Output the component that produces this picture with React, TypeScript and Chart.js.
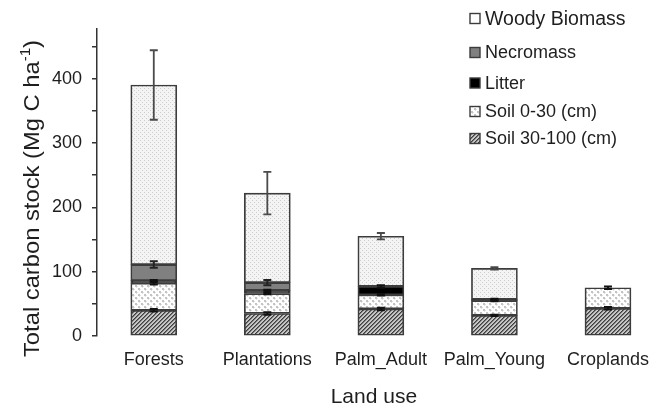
import { useEffect, useRef } from 'react';
import { Chart, registerables } from 'chart.js';

Chart.register(...registerables);

// ---------- data ----------
const categories = ['Forests', 'Plantations', 'Palm_Adult', 'Palm_Young', 'Croplands'];
const seriesNames = ['Soil 30-100 (cm)', 'Soil 0-30 (cm)', 'Litter', 'Necromass', 'Woody Biomass'];
const soil30to100 = [40, 35, 42, 32, 43];
const soil0to30 = [42, 31, 22, 23, 32];
const litter = [4, 5, 13, 2, 0];
const necromass = [25, 12, 0, 0, 0];
const woodyBiomass = [279, 139, 78, 48, 0];
const soil30to100Err = [2, 2, 2, 1, 2];
const soil0to30Err = [2, 1, 1, 1, 2];
const litterErr = [1, 1, 2, 1, 0];
const necromassErr = [5, 4, 0, 0, 0];
const woodyBiomassErr = [54, 33, 5, 2, 0];
const yTickValues = [0, 50, 100, 150, 200, 250, 300, 350, 400, 450];
const yLabelStep = 100;
const yMax = 477;
const xTitle = 'Land use';
const yTitleMain = 'Total carbon stock (Mg C ha';
const yTitleSup = '-1';
const yTitleEnd = ')';

const FONT = '"Liberation Sans", Arial, Helvetica, sans-serif';
const TEXT = '#1e1e1e';
const EDGE = '#3c3c3c';

function makePattern(kind: string): CanvasPattern | string {
  const c = document.createElement('canvas');
  const g = c.getContext('2d')!;
  if (kind === 'fineDots') {
    c.width = 4; c.height = 4;
    g.fillStyle = '#f4f4f4'; g.fillRect(0, 0, 4, 4);
    g.fillStyle = '#cdcdcd';
    g.fillRect(0, 0, 1, 1); g.fillRect(2, 2, 1, 1);
  } else if (kind === 'crossDots') {
    c.width = 6; c.height = 6;
    g.fillStyle = '#ffffff'; g.fillRect(0, 0, 6, 6);
    g.fillStyle = '#c4c4c4';
    g.fillRect(0, 0, 2, 2); g.fillRect(3, 3, 2, 2);
    g.fillStyle = '#e2e2e2';
    g.fillRect(2, 1, 1, 1); g.fillRect(1, 2, 1, 1);
    g.fillRect(5, 4, 1, 1); g.fillRect(4, 5, 1, 1);
  } else {
    c.width = 4; c.height = 4;
    for (let x = 0; x < 4; x++) {
      for (let y = 0; y < 4; y++) {
        const m = (x + y) % 4;
        g.fillStyle = m === 0 ? '#3e3e3e' : m === 1 ? '#777777' : '#c6c6c6';
        g.fillRect(x, y, 1, 1);
      }
    }
  }
  return g.createPattern(c, 'repeat') || '#888';
}

export default function App() {
  const ref = useRef<HTMLCanvasElement>(null);

  useEffect(() => {
    const canvas = ref.current;
    if (!canvas) return;

    const values = [soil30to100, soil0to30, litter, necromass, woodyBiomass];
    const errors = [soil30to100Err, soil0to30Err, litterErr, necromassErr, woodyBiomassErr];
    const fills: (CanvasPattern | string)[] = [
      makePattern('hatch'),
      makePattern('crossDots'),
      '#000000',
      '#808080',
      makePattern('fineDots'),
    ];
    const legendFills: (CanvasPattern | string)[] = [fills[0], fills[1], '#000000', '#808080', '#ffffff'];
    const errColors = ['#111', '#111', '#111', '#222', '#4a4a4a'];

    const datasets = values.map((vals, di) => ({
      label: seriesNames[di],
      data: vals.map((v, i) => ({ x: i, y: v === 0 ? null : v })),
      backgroundColor: fills[di],
      borderColor: EDGE,
      borderWidth: 1.7,
      borderSkipped: false,
      barThickness: 46,
    }));

    const errorBarPlugin = {
      id: 'errorBars',
      afterDatasetsDraw(chart: any) {
        const { ctx, scales } = chart;
        const xs = scales.x, ys = scales.y;
        ctx.save();
        categories.forEach((_, i) => {
          let cum = 0;
          values.forEach((vals, di) => {
            cum += vals[i];
            const e = errors[di][i];
            if (!vals[i] || !e) return;
            const px = xs.getPixelForValue(i);
            const yt = ys.getPixelForValue(cum + e);
            const yb = ys.getPixelForValue(cum - e);
            ctx.strokeStyle = errColors[di];
            ctx.lineWidth = di === 4 ? 1.8 : 2;
            ctx.beginPath();
            ctx.moveTo(px, yt); ctx.lineTo(px, yb);
            ctx.moveTo(px - 4, yt); ctx.lineTo(px + 4, yt);
            ctx.moveTo(px - 4, yb); ctx.lineTo(px + 4, yb);
            ctx.stroke();
          });
        });
        ctx.restore();
      },
    };

    const legendRowsY = [18.5, 52.5, 83, 111.5, 138.5];
    const legendPlugin = {
      id: 'customLegend',
      afterDraw(chart: any) {
        const ctx = chart.ctx;
        ctx.save();
        ctx.textBaseline = 'middle';
        ctx.textAlign = 'left';
        for (let k = 0; k < seriesNames.length; k++) {
          const di = seriesNames.length - 1 - k;
          const y = legendRowsY[k];
          const s = 10;
          ctx.fillStyle = legendFills[di];
          ctx.fillRect(470, y - s / 2, s, s);
          ctx.strokeStyle = EDGE;
          ctx.lineWidth = 1.4;
          ctx.strokeRect(470, y - s / 2, s, s);
          ctx.fillStyle = TEXT;
          ctx.font = `${k === 0 ? 19.5 : 18}px ${FONT}`;
          ctx.fillText(seriesNames[di], 485, y + 1);
        }
        ctx.restore();
      },
    };

    const yTitlePlugin = {
      id: 'yTitle',
      afterDraw(chart: any) {
        const ctx = chart.ctx;
        ctx.save();
        const big = `22px ${FONT}`;
        const small = `14px ${FONT}`;
        ctx.font = big;
        const w1 = ctx.measureText(yTitleMain).width;
        const w3 = ctx.measureText(yTitleEnd).width;
        ctx.font = small;
        const w2 = ctx.measureText(yTitleSup).width;
        const total = w1 + w2 + w3;
        const sx = 317 / total;
        ctx.translate(38.5, 198.5);
        ctx.rotate(-Math.PI / 2);
        ctx.scale(sx, 1);
        ctx.fillStyle = TEXT;
        ctx.textBaseline = 'alphabetic';
        ctx.textAlign = 'left';
        let p = -total / 2;
        ctx.font = big;
        ctx.fillText(yTitleMain, p, 0); p += w1;
        ctx.font = small;
        ctx.fillText(yTitleSup, p, -9); p += w2;
        ctx.font = big;
        ctx.fillText(yTitleEnd, p, 0);
        ctx.restore();
      },
    };

    const chart = new Chart(canvas, {
      type: 'bar',
      data: { datasets: datasets as any },
      plugins: [errorBarPlugin, legendPlugin, yTitlePlugin],
      options: {
        animation: false,
        responsive: false,
        devicePixelRatio: 1,
        layout: { padding: { top: 29, left: 0, right: 0, bottom: 0 } },
        plugins: { legend: { display: false }, tooltip: { enabled: false } },
        scales: {
          x: {
            type: 'linear',
            stacked: true,
            min: -0.5,
            max: 4.377,
            offset: false,
            grid: { display: false },
            border: { display: false },
            afterBuildTicks: (scale: any) => {
              scale.ticks = categories.map((_, i) => ({ value: i }));
            },
            afterFit: (scale: any) => { scale.height = 72; },
            ticks: {
              autoSkip: false,
              maxRotation: 0,
              padding: 5,
              color: TEXT,
              font: { family: FONT, size: 18 },
              callback: (v: any) => categories[v as number] ?? '',
            },
            title: {
              display: true,
              text: xTitle,
              color: TEXT,
              font: { family: FONT, size: 21, lineHeight: 1 },
              padding: { top: 0, bottom: 0 },
            },
          },
          y: {
            stacked: true,
            min: 0,
            max: yMax,
            afterBuildTicks: (scale: any) => {
              scale.ticks = yTickValues.map((v) => ({ value: v }));
            },
            afterFit: (scale: any) => { scale.width = 97; },
            grid: {
              display: true,
              drawOnChartArea: false,
              drawTicks: true,
              tickLength: 5,
              color: '#333',
              lineWidth: 1.5,
            },
            border: { display: true, color: '#333', width: 1.5 },
            ticks: {
              padding: 10,
              color: TEXT,
              font: { family: FONT, size: 18 },
              callback: (v: any) => ((v as number) % yLabelStep === 0 ? String(v) : ''),
            },
          },
        },
      },
    });
    return () => chart.destroy();
  }, []);

  return (
    <div style={{ position: 'fixed', left: 0, top: 0, width: 654, height: 408, background: '#fff' }}>
      <canvas ref={ref} width={654} height={408} style={{ display: 'block', width: 654, height: 408 }} />
    </div>
  );
}
